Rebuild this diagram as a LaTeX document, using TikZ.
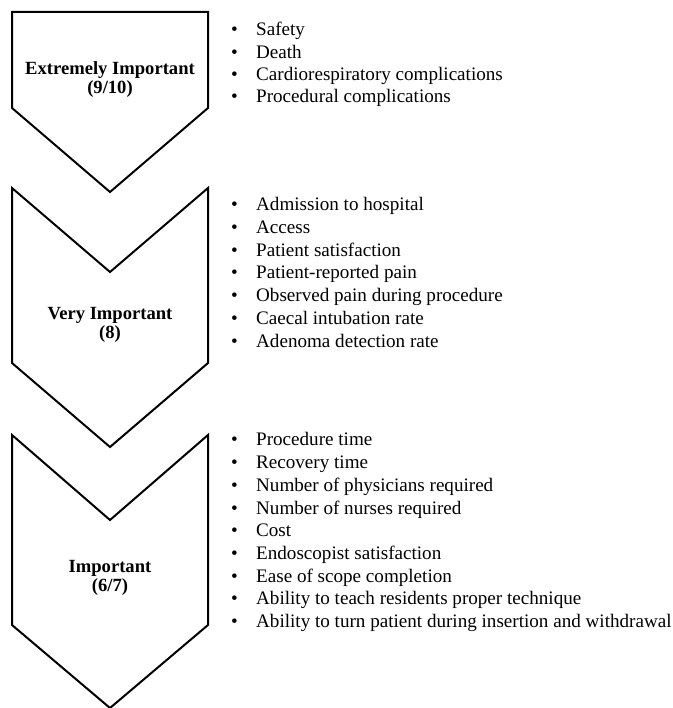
\documentclass[tikz,border=0pt]{standalone}
\usepackage{fontspec}
\setmainfont{Liberation Serif}
\usetikzlibrary{positioning}
\tikzstyle{chevron} = [draw=black, line width=2pt, line join=miter, fill=white]
\tikzstyle{levellabel} = [align=center, inner sep=0pt,
  font=\fontsize{18.6}{19}\selectfont\bfseries]
\tikzstyle{itemlist} = [align=left, anchor=base west, inner sep=0pt,
  font=\fontsize{19.1}{22.7}\selectfont]
\newcommand{\itm}[1]{\makebox[25pt][l]{\textbullet}#1}

\begin{document}
\begin{tikzpicture}[x=1pt, y=-1pt]
  \useasboundingbox (0,0) rectangle (672,708);

  % Chevrons
  \draw[chevron] (12,12) -- (208,12) -- (208,108) -- (110,192) -- (12,108) -- cycle;
  \draw[chevron] (12,188) -- (110,272) -- (208,188) -- (208,363) -- (110,447) -- (12,363) -- cycle;
  \draw[chevron] (12,435) -- (110,520) -- (208,435) -- (208,625) -- (110,708) -- (12,625) -- cycle;

  % Levels
  \node[levellabel] (extreme) at (110,80) {Extremely Important\\(9/10)};
  \node[levellabel] (very) at (110,325) {Very Important\\(8)};
  \node[levellabel] (important) at (110,578) {Important\\(6/7)};

  % Outcomes (anchored at the baseline of the last line)
  \node[itemlist, font=\fontsize{19.1}{22.2}\selectfont] (extremelist) at (231,102.5)
    {\itm{Safety}\\\itm{Death}\\
    \itm{Cardiorespiratory complications}\\\itm{Procedural complications}};
  \node[itemlist] (verylist) at (231,347) {\itm{Admission to hospital}\\\itm{Access}\\
    \itm{Patient satisfaction}\\\itm{Patient-reported pain}\\
    \itm{Observed pain during procedure}\\\itm{Caecal intubation rate}\\
    \itm{Adenoma detection rate}};
  \node[itemlist] (importantlist) at (231,627.5) {\itm{Procedure time}\\\itm{Recovery time}\\
    \itm{Number of physicians required}\\\itm{Number of nurses required}\\
    \itm{Cost}\\\itm{Endoscopist satisfaction}\\\itm{Ease of scope completion}\\
    \itm{Ability to teach residents proper technique}\\
    \itm{Ability to turn patient during insertion and withdrawal}};

\end{tikzpicture}
\end{document}
